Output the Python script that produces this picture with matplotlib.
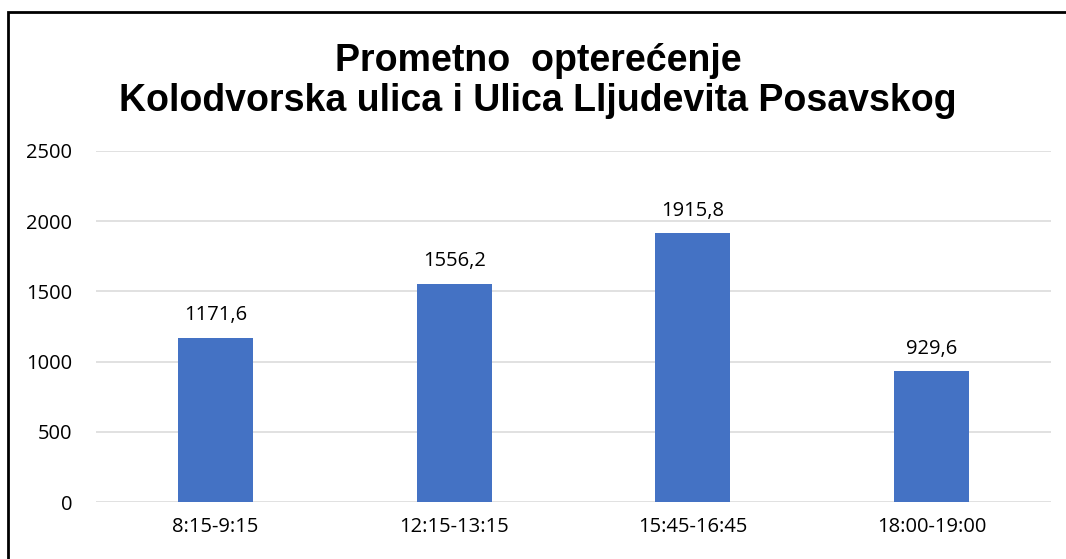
import matplotlib
matplotlib.use("Agg")
import matplotlib.pyplot as plt
from matplotlib.patches import Rectangle

categories = ["8:15-9:15", "12:15-13:15", "15:45-16:45", "18:00-19:00"]
values = [1171.6, 1556.2, 1915.8, 929.6]
value_labels = ["1171,6", "1556,2", "1915,8", "929,6"]
yticks = [0, 500, 1000, 1500, 2000, 2500]
title = "Prometno  opterećenje\nKolodvorska ulica i Ulica Lljudevita Posavskog"

W, H = 1066, 559
fig = plt.figure(figsize=(W / 100, H / 100), dpi=100)
fig.patch.set_facecolor("white")

ax = fig.add_axes([96 / W, 57 / H, (1051 - 96) / W, (502 - 151) / H])
x = list(range(len(categories)))
bars = ax.bar(x, values, width=0.314, color="#4472C4", zorder=3)
ax.set_xlim(-0.5, len(categories) - 0.5)
ax.set_ylim(0, 2500)
ax.set_yticks(yticks)
ax.set_yticklabels([str(v) for v in yticks])
ax.set_xticks(x)
ax.set_xticklabels(categories)
ax.yaxis.grid(True, color="#D9D9D9", linewidth=1.1, zorder=0)
for s in ax.spines.values():
    s.set_visible(False)
ax.tick_params(axis="both", length=0, labelsize=14.5, labelcolor="black")
ax.tick_params(axis="y", pad=17)
ax.tick_params(axis="x", pad=11)
for lab in ax.get_xticklabels() + ax.get_yticklabels():
    lab.set_fontfamily("Open Sans")

for xi, v, lbl in zip(x, values, value_labels):
    ax.annotate(lbl, (xi, v), xytext=(0, 9), textcoords="offset points",
                ha="center", va="bottom", fontsize=14.5, family="Open Sans")

fig.text(538 / W, 1 - 81 / H, title, ha="center", va="center", fontsize=27,
         fontweight="bold", family="Liberation Sans", linespacing=1.16)

fig.patches.append(Rectangle((7.5 / W, -0.05), 1.2, 1 - 11.5 / H + 0.05,
                             transform=fig.transFigure, fill=False,
                             edgecolor="black", linewidth=2, zorder=10))

fig.savefig("out.png", dpi=100)
